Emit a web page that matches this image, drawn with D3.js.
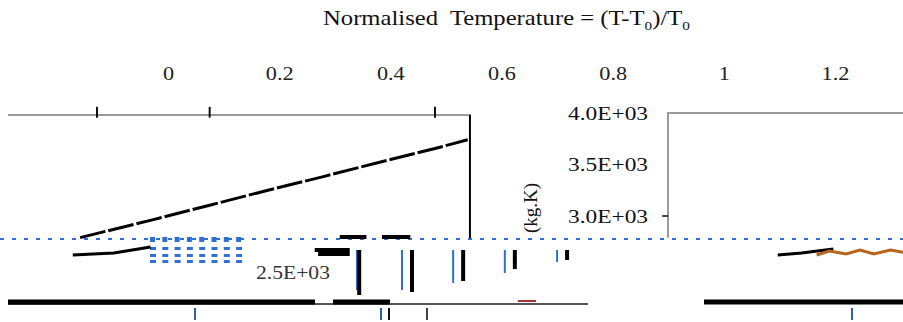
<!DOCTYPE html>
<html><head><meta charset="utf-8">
<script src="https://cdn.jsdelivr.net/npm/d3@7/dist/d3.min.js"></script>
<style>body{margin:0;background:#fff}svg{display:block}text{font-family:"Liberation Serif","Times New Roman",serif;fill:#000}</style>
</head><body>
<svg id="c" width="903" height="322"></svg>
<script>
// ---- data ----
const xTickValues = [0, 0.2, 0.4, 0.6, 0.8, 1, 1.2];
const xTickLabels = ["0", "0.2", "0.4", "0.6", "0.8", "1", "1.2"];
const leftTickValues = [-0.2, 0, 0.4];
const yTickValues = [3000, 3500, 4000];
const yTickLabels = ["3.0E+03", "3.5E+03", "4.0E+03"];
const lowTickValues = [2500];
const lowTickLabels = ["2.5E+03"];

// main rising series (left panel)
const mainTemp = [-0.23, -0.1, 0, 0.1, 0.2, 0.3, 0.4, 0.458];
const mainCp   = [2790, 2965, 3105, 3245, 3380, 3520, 3655, 3740];
// lower short series (left panel)
const lowTemp = [-0.243, -0.17, -0.105];
const lowCp   = [2621, 2640, 2699];
// reference (blue dotted) level
const refCp = 2777;
// vertical bars (main scale)
const barTemp  = [0.344, 0.439, 0.531, 0.624, 0.718];
const barTop   = 2670;
const barLow   = [2233, 2262, 2369, 2485, 2573];
const blueTemp = [0.34, 0.421, 0.513, 0.606, 0.700];
const blueLow  = [2282, 2282, 2350, 2447, 2553];
// short horizontal caps (main scale)
const capFrom = [0.309, 0.385, 0.264, 0.27];
const capTo   = [0.357, 0.436, 0.327, 0.327];
const capCp   = [2796, 2796, 2670, 2631];
// right panel series
const rightTemp  = [1.097, 1.14, 1.197];
const rightCp    = [2621, 2640, 2680];
const orangeTemp = [1.167, 1.19, 1.22, 1.245, 1.27, 1.3, 1.33, 1.36];
const orangeCp   = [2621, 2660, 2631, 2670, 2631, 2670, 2640, 2670];
// bottom base level
const baseCp = 2165;

// ---- helpers ----
function stretch(sel, f) {
  sel.each(function () {
    const w = this.getComputedTextLength();
    d3.select(this).attr("textLength", w * f).attr("lengthAdjust", "spacingAndGlyphs");
  });
}

// ---- scales ----
const svg = d3.select("#c");
const x  = d3.scaleLinear().domain([0, 1.2]).range([168, 835]);
const xL = d3.scaleLinear().domain([-0.2, 0.4]).range([97, 435]);
const y  = d3.scaleLinear().domain([3000, 4000]).range([216, 113]);

// ---- title ----
const title = svg.append("text").attr("x", 323).attr("y", 25)
  .attr("text-anchor", "start").style("font-size", "21px").style("fill", "#111")
  .style("white-space", "pre");
title.append("tspan").text("Normalised  Temperature = (T-T");
title.append("tspan").attr("dy", 5).style("font-size", "13px").text("0");
title.append("tspan").attr("dy", -5).text(")/T");
title.append("tspan").attr("dy", 5).style("font-size", "13px").text("0");
title.attr("textLength", 367).attr("lengthAdjust", "spacingAndGlyphs");

// ---- top axis labels ----
const topAxis = d3.axisTop(x).tickValues(xTickValues)
  .tickFormat((d, i) => xTickLabels[i]).tickSize(0).tickPadding(0);
const gt = svg.append("g").attr("transform", "translate(0,80)").call(topAxis);
gt.select(".domain").remove();
gt.selectAll("text").style("font-size", "19px").style("fill", "#222").attr("font-family", null);
stretch(gt.selectAll("text"), 1.17);

// ---- left panel frame ----
svg.append("line").attr("x1", 8).attr("x2", xL(0.46)).attr("y1", y(3980)).attr("y2", y(3980))
  .attr("stroke", "#9a9a9a").attr("stroke-width", 2);
svg.selectAll(".ltick").data(leftTickValues).join("line")
  .attr("x1", d => xL(d)).attr("x2", d => xL(d))
  .attr("y1", y(4060)).attr("y2", y(3955)).attr("stroke", "#111").attr("stroke-width", 2);
svg.append("line").attr("x1", xL(0.462)).attr("x2", xL(0.462))
  .attr("y1", y(3985)).attr("y2", y(refCp)).attr("stroke", "#000").attr("stroke-width", 2);

// ---- right panel frame + y labels ----
svg.append("path").attr("d", `M903,${y(4000)}H668V${y(2790)}`)
  .attr("fill", "none").attr("stroke", "#9a9a9a").attr("stroke-width", 2);
svg.append("line").attr("x1", 662).attr("x2", 668).attr("y1", y(3000)).attr("y2", y(3000))
  .attr("stroke", "#111").attr("stroke-width", 1.5);
const yAxis = d3.axisLeft(y).tickValues(yTickValues)
  .tickFormat((d, i) => yTickLabels[i]).tickSize(0).tickPadding(20);
const gy = svg.append("g").attr("transform", "translate(668,0)").call(yAxis);
gy.select(".domain").remove();
gy.selectAll("text").style("font-size", "19px").style("fill", "#111").attr("font-family", null);
stretch(gy.selectAll("text"), 1.23);
const low = svg.selectAll(".lowlab").data(lowTickValues).join("text")
  .attr("x", 330).attr("y", d => y(d)).attr("dy", "0.62em")
  .attr("text-anchor", "end").style("font-size", "18px").style("fill", "#333")
  .text((d, i) => lowTickLabels[i]);
stretch(low, 1.2);
svg.append("text").attr("transform", "translate(537,208) rotate(-90)")
  .attr("text-anchor", "middle").style("font-size", "19px").style("fill", "#111").text("(kg.K)");

// ---- blue dotted reference line ----
svg.append("line").attr("x1", 0).attr("x2", 903).attr("y1", y(refCp)).attr("y2", y(refCp))
  .attr("stroke", "#2f6fd0").attr("stroke-width", 2).attr("stroke-dasharray", "4 8");
// dot grid (left)
const gridRows = [refCp, 2680, 2612, 2553];
const gridCols = d3.range(8);
gridRows.forEach((r, ri) => {
  svg.selectAll(null).data(gridCols).join("rect")
    .attr("x", c => 150 + c * 12.3).attr("y", y(r) - 2).attr("width", ri === 0 ? 5 : 6).attr("height", ri === 0 ? 5 : 3)
    .attr("fill", "#2f6fd0");
});

// ---- main series ----
const lineL = d3.line().x(d => xL(d[0])).y(d => y(d[1]));
svg.append("path").datum(mainTemp.map((t, i) => [t, mainCp[i]]))
  .attr("d", lineL).attr("fill", "none").attr("stroke", "#000")
  .attr("stroke-width", 3).attr("stroke-dasharray", "26 3");
svg.append("path").datum(lowTemp.map((t, i) => [t, lowCp[i]]))
  .attr("d", lineL).attr("fill", "none").attr("stroke", "#000")
  .attr("stroke-width", 3);

// ---- caps ----
svg.selectAll(".cap").data(capCp).join("line")
  .attr("x1", (d, i) => x(capFrom[i])).attr("x2", (d, i) => x(capTo[i]))
  .attr("y1", d => y(d)).attr("y2", d => y(d))
  .attr("stroke", "#000").attr("stroke-width", 4);

// ---- bars ----
svg.selectAll(".bb").data(blueLow).join("line")
  .attr("x1", (d, i) => x(blueTemp[i])).attr("x2", (d, i) => x(blueTemp[i]))
  .attr("y1", y(barTop)).attr("y2", d => y(d)).attr("stroke", "#2f6fd0").attr("stroke-width", 2);
svg.selectAll(".kb").data(barLow).join("line")
  .attr("x1", (d, i) => x(barTemp[i])).attr("x2", (d, i) => x(barTemp[i]))
  .attr("y1", y(barTop)).attr("y2", d => y(d)).attr("stroke", "#000").attr("stroke-width", 4);

// ---- right panel series ----
const lineM = d3.line().x(d => x(d[0])).y(d => y(d[1]));
svg.append("path").datum(rightTemp.map((t, i) => [t, rightCp[i]]))
  .attr("d", lineM).attr("fill", "none").attr("stroke", "#000").attr("stroke-width", 3);
svg.append("path").datum(orangeTemp.map((t, i) => [t, orangeCp[i]]))
  .attr("d", lineM).attr("fill", "none").attr("stroke", "#b5651d").attr("stroke-width", 3);

// ---- bottom base ----
svg.append("line").attr("x1", 8).attr("x2", 588).attr("y1", y(baseCp) + 2).attr("y2", y(baseCp) + 2)
  .attr("stroke", "#555").attr("stroke-width", 2);
[[8, 315], [333, 390]].forEach(s => svg.append("line").attr("x1", s[0]).attr("x2", s[1])
  .attr("y1", y(baseCp)).attr("y2", y(baseCp)).attr("stroke", "#000").attr("stroke-width", 5));
svg.append("line").attr("x1", 518).attr("x2", 536).attr("y1", y(baseCp) - 1).attr("y2", y(baseCp) - 1)
  .attr("stroke", "#a33").attr("stroke-width", 2);
svg.append("line").attr("x1", 704).attr("x2", 903).attr("y1", y(baseCp)).attr("y2", y(baseCp))
  .attr("stroke", "#000").attr("stroke-width", 5);
const bottomTicks = [[195, "#2f5fb0"], [381, "#2f5fb0"], [389, "#111"], [427, "#444"], [852, "#2f5fb0"]];
svg.selectAll(".bt").data(bottomTicks).join("line")
  .attr("x1", d => d[0]).attr("x2", d => d[0]).attr("y1", y(baseCp) + 6).attr("y2", y(baseCp) + 18)
  .attr("stroke", d => d[1]).attr("stroke-width", 2);
</script>
</body></html>
